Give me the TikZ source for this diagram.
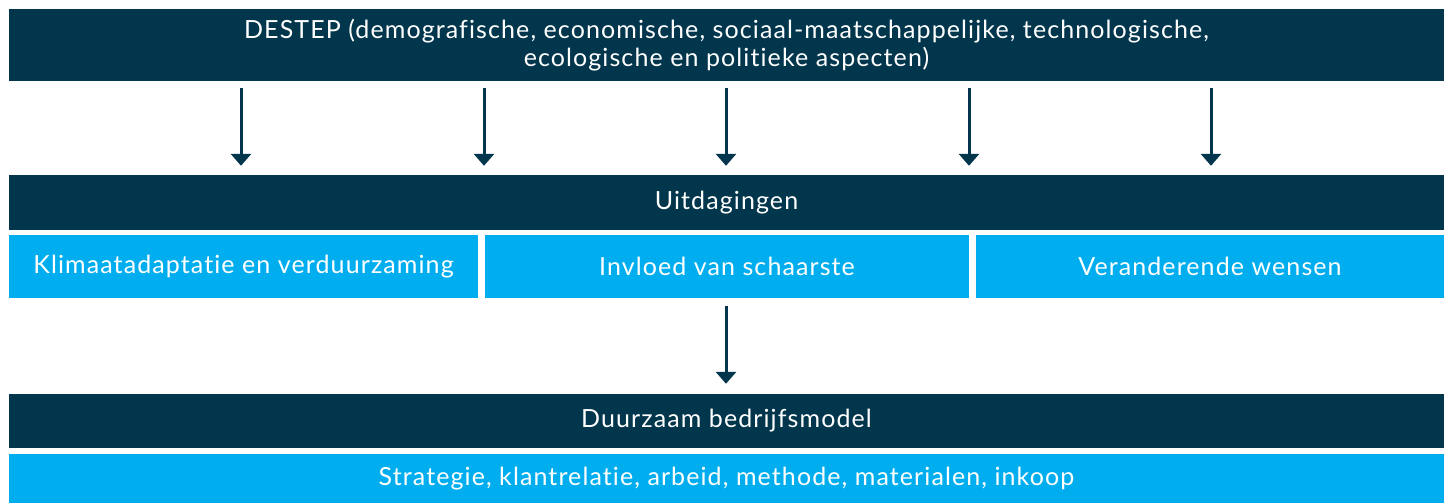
\documentclass[tikz,border=0pt]{standalone}
\usepackage{fontspec}
\setmainfont{Lato}[LetterSpace=4.4,Ligatures={NoCommon,NoRare}]
\usetikzlibrary{arrows.meta}
\definecolor{navy}{HTML}{02364C}
\definecolor{sky}{HTML}{00AEEF}
\begin{document}
\begin{tikzpicture}[x=1pt,y=-1pt,
  dark/.style={fill=navy,text=white,inner sep=0pt,align=center,font=\fontsize{25}{28}\selectfont},
  light/.style={fill=sky,text=white,inner sep=0pt,align=center,font=\fontsize{25}{28}\selectfont},
  arr/.style={draw=navy,line width=3pt,-{Triangle[width=20pt,length=12pt]}}]
\useasboundingbox (0,0) rectangle (1448,503);
\node[dark,minimum width=1435pt,minimum height=72pt] (top) at (726.5,45) {DESTEP (demografische, economische, sociaal-maatschappelijke, technologische,\\ecologische en politieke aspecten)};
\node[dark,minimum width=1435pt,minimum height=55pt] (uit) at (726.5,202.5) {Uitdagingen};
\node[light,minimum width=469pt,minimum height=63pt] (k1) at (243.5,266.5) {Klimaatadaptatie en verduurzaming};
\node[light,minimum width=484pt,minimum height=63pt] (k2) at (727,266.5) {Invloed van schaarste};
\node[light,minimum width=468pt,minimum height=63pt] (k3) at (1210,266.5) {Veranderende wensen};
\node[dark,minimum width=1435pt,minimum height=54pt] (duur) at (726.5,421) {Duurzaam bedrijfsmodel};
\node[light,minimum width=1435pt,minimum height=49pt] (strat) at (726.5,478.5) {Strategie, klantrelatie, arbeid, methode, materialen, inkoop};
\foreach \x in {241,484,726,969,1211}{
  \draw[arr,shorten <=7pt,shorten >=9pt] (top.south -| \x,0) -- (uit.north -| \x,0);
}
\draw[arr,shorten <=8pt,shorten >=10pt] (k2.south -| 726,0) -- (duur.north -| 726,0);
\end{tikzpicture}
\end{document}
